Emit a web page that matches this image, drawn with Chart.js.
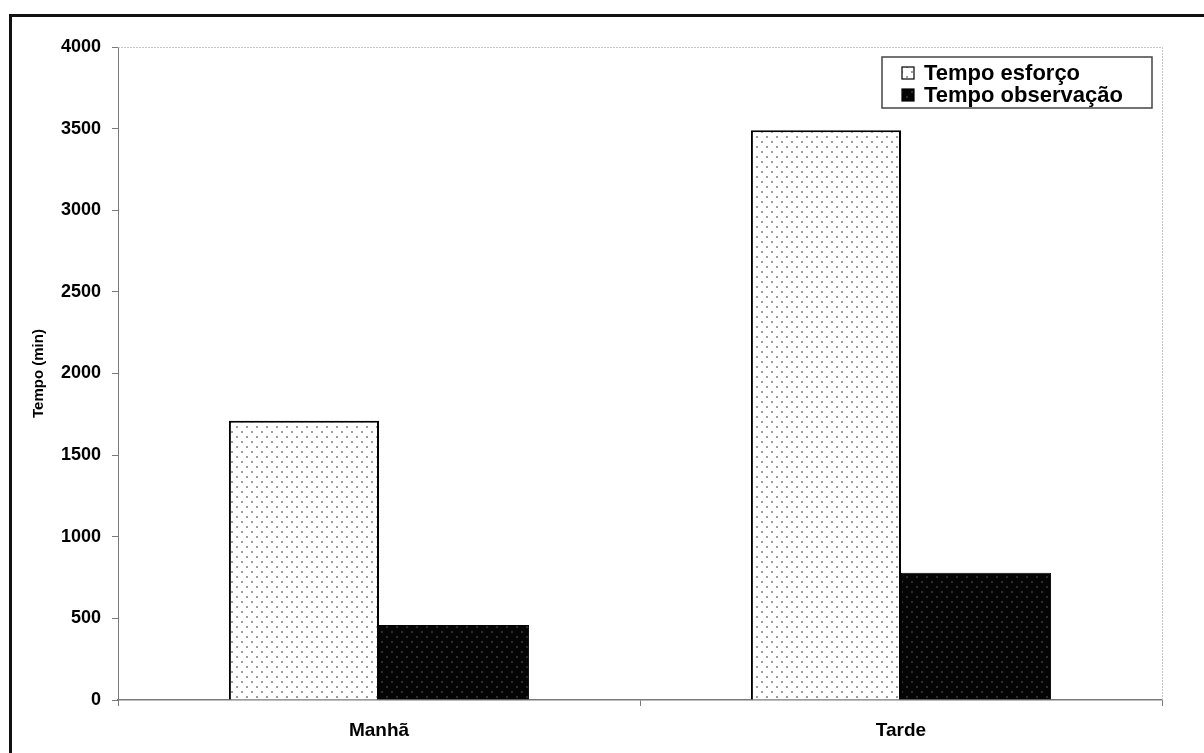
<!DOCTYPE html>
<html>
<head>
<meta charset="utf-8">
<title>Tempo de esforço e observação</title>
<script src="https://cdn.jsdelivr.net/npm/chart.js@4.4.1/dist/chart.umd.min.js"></script>
<style>
  html, body { margin: 0; padding: 0; background: #fff; }
  #wrap { position: relative; width: 1204px; height: 753px; overflow: hidden; }
  #chart { position: absolute; left: 0; top: 0; }
  #frame {
    position: absolute; left: 9px; top: 14px; right: -10px; bottom: -10px;
    border-top: 3px solid #111; border-left: 3px solid #111;
    pointer-events: none;
  }
</style>
</head>
<body>
<div id="wrap">
  <canvas id="chart" width="1204" height="753"></canvas>
  <div id="frame"></div>
</div>
<script>
// Periods of the day and minutes recorded in each
const categories = ['Manhã', 'Tarde'];
const seriesLabels = ['Tempo esforço', 'Tempo observação'];
const tempoEsforco = [1710, 3490];
const tempoObservacao = [460, 780];
const yTickValues = [0, 500, 1000, 1500, 2000, 2500, 3000, 3500, 4000];
const axisTitle = 'Tempo (min)';

const FONT = '"Liberation Sans", Arial, sans-serif';

// Staggered dot fill used for the bars
function dotPattern(bg, dot) {
  const c = document.createElement('canvas');
  c.width = 10; c.height = 10;
  const g = c.getContext('2d');
  g.fillStyle = bg; g.fillRect(0, 0, 10, 10);
  g.fillStyle = dot;
  g.beginPath(); g.arc(2, 2, 1, 0, Math.PI * 2); g.fill();
  g.beginPath(); g.arc(7, 7, 1, 0, Math.PI * 2); g.fill();
  return document.getElementById('chart').getContext('2d').createPattern(c, 'repeat');
}
const lightFill = dotPattern('#ffffff', '#7e7e7e');
const darkFill = dotPattern('#050505', '#3c3c3c');

// Faint border on the top and right of the plot area
const plotBorder = {
  id: 'plotBorder',
  beforeDatasetsDraw(chart) {
    const { ctx, chartArea: a } = chart;
    ctx.save();
    ctx.strokeStyle = '#c4c4c4';
    ctx.lineWidth = 1;
    ctx.setLineDash([2, 1]);
    ctx.beginPath();
    ctx.moveTo(a.left, a.top + 0.5);
    ctx.lineTo(a.right + 0.5, a.top + 0.5);
    ctx.lineTo(a.right + 0.5, a.bottom);
    ctx.stroke();
    ctx.restore();
  }
};

// Boxed legend in the upper right of the plot
const boxLegend = {
  id: 'boxLegend',
  afterDraw(chart) {
    const { ctx, chartArea: a } = chart;
    const x1 = a.right - 280, y1 = a.top + 10, w = 270, h = 51;
    ctx.save();
    ctx.fillStyle = '#fff';
    ctx.fillRect(x1, y1, w, h);
    ctx.strokeStyle = '#444';
    ctx.lineWidth = 1.5;
    ctx.strokeRect(x1, y1, w, h);
    ctx.font = 'bold 22px ' + FONT;
    ctx.textBaseline = 'middle';
    chart.data.datasets.forEach((ds, i) => {
      const cy = y1 + 16 + i * 22;
      const sx = x1 + 20;
      ctx.fillStyle = ds.backgroundColor;
      ctx.fillRect(sx, cy - 6, 12, 12);
      ctx.strokeStyle = '#000';
      ctx.lineWidth = 1.2;
      ctx.strokeRect(sx, cy - 6, 12, 12);
      ctx.fillStyle = '#000';
      ctx.fillText(ds.label, sx + 22, cy + 1);
    });
    ctx.restore();
  }
};

new Chart(document.getElementById('chart'), {
  type: 'bar',
  data: {
    labels: categories,
    datasets: [
      {
        label: seriesLabels[0],
        data: tempoEsforco,
        backgroundColor: lightFill,
        borderColor: '#000',
        borderWidth: 2,
        borderSkipped: 'bottom'
      },
      {
        label: seriesLabels[1],
        data: tempoObservacao,
        backgroundColor: darkFill,
        borderColor: '#000',
        borderWidth: 1,
        borderSkipped: 'bottom'
      }
    ]
  },
  options: {
    responsive: false,
    animation: false,
    devicePixelRatio: 1,
    layout: { padding: { left: 0, top: 47, right: 42, bottom: 0 } },
    datasets: { bar: { categoryPercentage: 0.575, barPercentage: 1 } },
    plugins: { legend: { display: false }, tooltip: { enabled: false } },
    scales: {
      x: {
        afterFit(s) { s.height = 53; },
        grid: { drawOnChartArea: false, drawTicks: true, tickLength: 6, color: '#7a7a7a', offset: true },
        border: { display: true, color: '#7a7a7a', width: 1.5 },
        ticks: { color: '#000', font: { family: FONT, size: 19, weight: 'bold' }, padding: 13 }
      },
      y: {
        min: 0,
        max: 4000,
        afterFit(s) { s.width = 118; },
        afterBuildTicks(s) { s.ticks = yTickValues.map(v => ({ value: v })); },
        grid: { drawOnChartArea: false, drawTicks: true, tickLength: 6, color: '#7a7a7a' },
        border: { display: true, color: '#7a7a7a', width: 1 },
        ticks: {
          color: '#000',
          font: { family: FONT, size: 18, weight: 'bold' },
          padding: 11,
          callback: v => String(v)
        },
        title: {
          display: true,
          text: axisTitle,
          color: '#000',
          font: { family: FONT, size: 15, weight: 'bold' },
          padding: { top: 30, bottom: 0 }
        }
      }
    }
  },
  plugins: [plotBorder, boxLegend]
});
</script>
</body>
</html>
